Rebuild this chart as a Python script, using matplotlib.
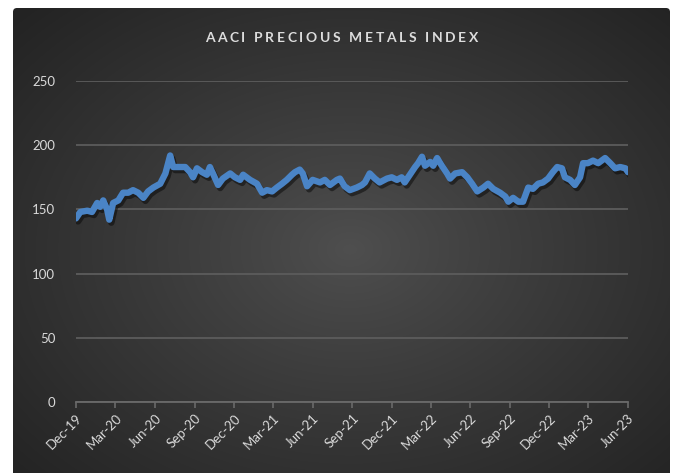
import numpy as np
import pandas as pd
import matplotlib
matplotlib.use("Agg")
import matplotlib.pyplot as plt
import matplotlib.dates as mdates
import matplotlib.patheffects as pe
from matplotlib.patches import FancyBboxPatch
from matplotlib.ticker import MultipleLocator

# ---- data -------------------------------------------------------------
title = "AACI PRECIOUS METALS INDEX"

dates = [
    "2019-12-01", "2019-12-11", "2019-12-27", "2020-01-07", "2020-01-19", "2020-01-26",
    "2020-02-02", "2020-02-11", "2020-02-16", "2020-02-25", "2020-03-08", "2020-03-19",
    "2020-03-31", "2020-04-11", "2020-04-23", "2020-05-05", "2020-05-16", "2020-05-28",
    "2020-06-13", "2020-06-25", "2020-07-06", "2020-07-13", "2020-07-29", "2020-08-10",
    "2020-08-21", "2020-08-28", "2020-09-06", "2020-09-18", "2020-09-29", "2020-10-06",
    "2020-10-13", "2020-10-25", "2020-11-05", "2020-11-22", "2020-12-03", "2020-12-15",
    "2020-12-22", "2021-01-07", "2021-01-23", "2021-02-04", "2021-02-15", "2021-02-27",
    "2021-03-10", "2021-03-22", "2021-04-02", "2021-04-14", "2021-04-21", "2021-05-02",
    "2021-05-09", "2021-05-19", "2021-06-01", "2021-06-18", "2021-06-29", "2021-07-11",
    "2021-07-27", "2021-08-03", "2021-08-14", "2021-08-26", "2021-09-11", "2021-09-23",
    "2021-09-30", "2021-10-11", "2021-10-23", "2021-11-03", "2021-11-20", "2021-12-01",
    "2021-12-13", "2021-12-24", "2021-12-31", "2022-01-12", "2022-01-24", "2022-01-31",
    "2022-02-09", "2022-02-16", "2022-02-28", "2022-03-07", "2022-03-16", "2022-03-27",
    "2022-04-08", "2022-04-15", "2022-04-27", "2022-05-13", "2022-05-25", "2022-06-05",
    "2022-06-17", "2022-07-01", "2022-07-12", "2022-07-24", "2022-08-09", "2022-08-21",
    "2022-08-28", "2022-09-08", "2022-09-20", "2022-10-01", "2022-10-13", "2022-10-24",
    "2022-11-05", "2022-11-16", "2022-11-28", "2022-12-09", "2022-12-19", "2022-12-30",
    "2023-01-06", "2023-01-18", "2023-01-29", "2023-02-10", "2023-02-17", "2023-02-28",
    "2023-03-12", "2023-03-24", "2023-04-09", "2023-04-21", "2023-05-02", "2023-05-14",
    "2023-05-26", "2023-06-01",
]

index_values = [
    143, 148, 149, 148, 155, 152,
    157, 150, 142, 155, 157, 163,
    163, 165, 163, 159, 164, 167,
    170, 178, 192, 183, 183, 183,
    179, 175, 182, 179, 177, 183,
    178, 169, 174, 178, 175, 173,
    177, 173, 170, 163, 165, 164,
    167, 170, 173, 177, 179, 181,
    178, 168, 173, 171, 173, 169,
    173, 174, 168, 165, 167, 169,
    171, 178, 174, 171, 174, 175,
    173, 175, 171, 177, 183, 186,
    191, 184, 187, 184, 190, 184,
    178, 174, 178, 179, 175, 170,
    164, 167, 170, 166, 163, 160,
    156, 159, 156, 156, 167, 166,
    170, 171, 174, 179, 183, 182,
    175, 173, 169, 175, 186, 186,
    188, 186, 190, 186, 182, 183,
    182, 179,
]

x_start, x_end = "2019-12-01", "2023-06-01"
y_max, y_step = 250, 50

# ---- figure -----------------------------------------------------------
W, H = 677, 473
fig = plt.figure(figsize=(W / 100, H / 100), dpi=100, facecolor="white")

# dark panel with a soft radial gradient
bg = fig.add_axes([0, 0, 1, 1], zorder=-5)
bg.set_xlim(0, W)
bg.set_ylim(H, 0)
bg.axis("off")
px0, px1, py0, py1 = 13, 670, 8, 490
gx = np.linspace(px0, px1, 400)
gy = np.linspace(py0, py1, 300)
GX, GY = np.meshgrid(gx, gy)
cx, cy = 350, 250
r = np.sqrt(((GX - cx) / (px1 - px0) * 2) ** 2 + ((GY - cy) / (py1 - py0) * 2) ** 2) / np.sqrt(2)
r = np.clip(r, 0, 1)
c_in, c_out = 0x4f / 255, 0x23 / 255
shade = c_in + (c_out - c_in) * r ** 0.9
img = np.dstack([shade, shade, shade])
panel = FancyBboxPatch((px0, py0), px1 - px0, py1 - py0,
                       boxstyle="round,pad=0,rounding_size=4",
                       facecolor="none", edgecolor="none", transform=bg.transData)
bg.add_patch(panel)
im = bg.imshow(img, extent=(px0, px1, py1, py0), aspect="auto", interpolation="bilinear")
im.set_clip_path(panel)

# plot area
ax = fig.add_axes([76 / W, 1 - 402 / H, (628 - 76) / W, (402 - 81) / H])
ax.set_facecolor("none")

x = pd.to_datetime(dates)
ax.plot(x, index_values, color="#4a84c6", lw=4.6, solid_capstyle="round",
        solid_joinstyle="round", zorder=3,
        path_effects=[pe.SimpleLineShadow(offset=(1.5, -2.2), shadow_color="black", alpha=0.45),
                      pe.Normal()])

ax.set_xlim(pd.Timestamp(x_start), pd.Timestamp(x_end))
ax.set_ylim(0, y_max)
ax.yaxis.set_major_locator(MultipleLocator(y_step))
ax.grid(axis="y", color="#5c5c5c", lw=1.3)
ax.set_axisbelow(True)

tick_dates = pd.date_range(x_start, x_end, freq="3MS")
ax.set_xticks(tick_dates)
ax.xaxis.set_major_formatter(mdates.DateFormatter("%b-%y"))

for side in ("top", "right", "left"):
    ax.spines[side].set_visible(False)
ax.spines["bottom"].set_color("#6a6a6a")
ax.spines["bottom"].set_linewidth(1.3)

label_font = "Lato"
ax.tick_params(axis="y", length=0, pad=15, labelcolor="#d9d9d9", labelsize=9.5)
ax.tick_params(axis="x", length=4, width=1.2, color="#6a6a6a", pad=3,
               labelcolor="#d9d9d9", labelsize=9.5)
for lab in ax.get_yticklabels():
    lab.set_fontfamily(label_font)
for lab in ax.get_xticklabels():
    lab.set_fontfamily(label_font)
    lab.set_rotation(45)
    lab.set_ha("right")
    lab.set_va("top")
    lab.set_rotation_mode("anchor")

# letter-spaced title, drawn character by character
fig.canvas.draw()
renderer = fig.canvas.get_renderer()
from matplotlib.font_manager import FontProperties
tprops = FontProperties(family=label_font, weight="bold", size=10)


def text_w(s):
    w_x = renderer.get_text_width_height_descent("x", tprops, ismath=False)[0]
    w = renderer.get_text_width_height_descent(s + "x", tprops, ismath=False)[0]
    return w - w_x


target_w = 273
natural = text_w(title)
n = len(title)
tracking = (target_w - natural) / (n - 1)
x0 = (205 + 478) / 2 - target_w / 2
for i, ch in enumerate(title):
    if ch == " ":
        continue
    xp = x0 + text_w(title[:i]) + i * tracking
    fig.text(xp / W, 1 - 38 / H, ch, fontproperties=tprops, color="#dcdcdc",
             ha="left", va="center")

fig.savefig("out.png", dpi=100, facecolor="white")
